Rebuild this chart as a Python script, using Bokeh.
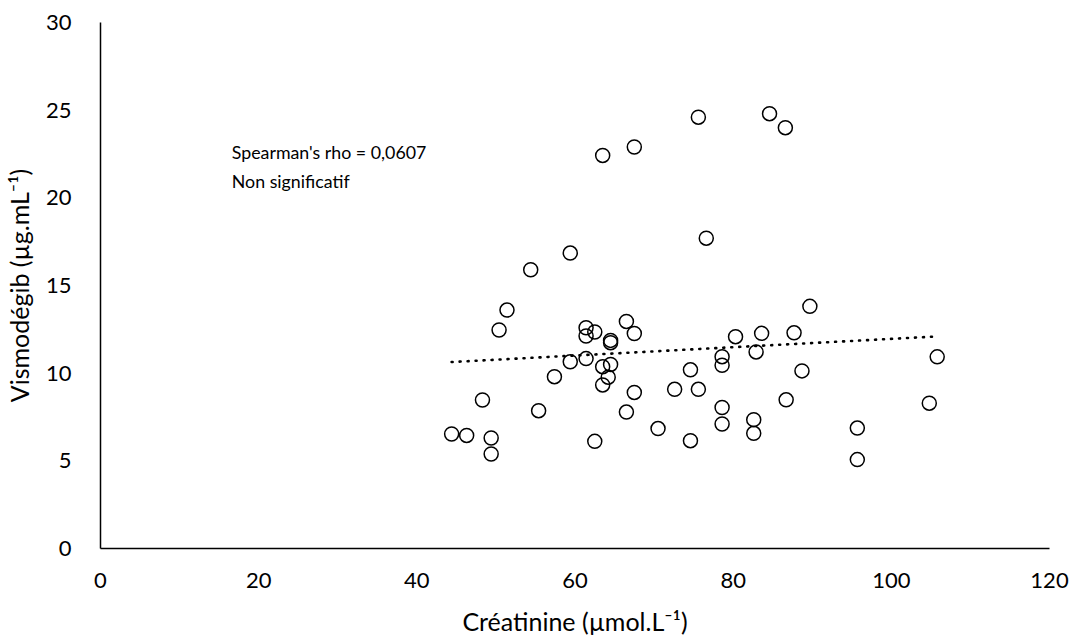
import numpy as np
from bokeh.plotting import figure
from bokeh.models import Range1d, FixedTicker, Label
from bokeh.embed import file_html
from bokeh.resources import INLINE

# Data
creatinine = [44.4, 46.3, 48.3, 49.4, 49.4, 50.4, 51.4, 54.4, 55.4, 57.4,
              59.4, 59.4, 61.4, 61.4, 61.4, 62.5, 62.5, 63.5, 63.5, 63.5,
              64.5, 64.5, 64.5, 64.2, 66.5, 66.5, 67.5, 67.5, 67.5, 70.5,
              72.6, 74.6, 74.6, 75.6, 75.6, 76.6, 78.6, 78.6, 78.6, 78.6,
              80.3, 82.6, 82.6, 82.9, 83.6, 84.6, 86.6, 86.7, 87.7, 88.7,
              89.7, 95.7, 95.7, 104.8, 105.8]
vismodegib = [6.53, 6.45, 8.47, 6.30, 5.39, 12.46, 13.60, 15.90, 7.86, 9.80,
              16.85, 10.65, 12.59, 12.12, 10.83, 12.35, 6.11, 22.42, 10.37, 9.33,
              11.87, 11.74, 10.50, 9.77, 12.95, 7.78, 12.26, 8.90, 22.90, 6.84,
              9.08, 10.19, 6.15, 9.08, 24.60, 17.70, 10.94, 10.45, 8.04, 7.10,
              12.08, 7.35, 6.57, 11.21, 12.27, 24.80, 24.00, 8.48, 12.30, 10.13,
              13.81, 6.87, 5.07, 8.29, 10.93]
x_ticks = [0, 20, 40, 60, 80, 100, 120]
y_ticks = [0, 5, 10, 15, 20, 25, 30]
annotation_lines = ["Spearman's rho = 0,0607", "Non significatif"]

FONT = "Lato"
TICK_FS = "22px"
TITLE_FS = "25px"
NOTE_FS = "17.8px"

p = figure(width=1085, height=641, output_backend="svg", toolbar_location=None,
           x_range=Range1d(0, 120), y_range=Range1d(0, 30),
           min_border_left=98, min_border_right=36, min_border_top=22,
           min_border_bottom=93)
p.outline_line_color = None
p.grid.grid_line_color = None
p.background_fill_color = "white"
p.border_fill_color = "white"

for ax in (p.xaxis, p.yaxis):
    ax.major_tick_line_color = None
    ax.minor_tick_line_color = None
    ax.axis_line_color = "black"
    ax.axis_line_width = 1.5
    ax.major_label_text_font = FONT
    ax.major_label_text_font_size = TICK_FS
    ax.major_label_text_color = "black"
    ax.axis_label_text_font = FONT
    ax.axis_label_text_font_size = TITLE_FS
    ax.axis_label_text_font_style = "normal"
    ax.axis_label_text_color = "black"

p.xaxis.ticker = FixedTicker(ticks=x_ticks)
p.yaxis.ticker = FixedTicker(ticks=y_ticks)
p.xaxis.major_label_standoff = 18
p.yaxis.major_label_standoff = 23
p.xaxis.axis_label = "Créatinine (µmol.L⁻¹)"
p.yaxis.axis_label = "Vismodégib (µg.mL⁻¹)"
p.xaxis.axis_label_standoff = 15
p.yaxis.axis_label_standoff = 9

# Linear trend line from the data
xs = np.array(creatinine)
ys = np.array(vismodegib)
slope, intercept = np.polyfit(xs, ys, 1)
tx = np.array([xs.min(), xs.max()])
p.line(tx, slope * tx + intercept, line_color="black", line_width=2.6,
       line_dash="1 7", line_cap="round")

p.scatter(creatinine, vismodegib, marker="circle", size=14,
          fill_color=None, line_color="black", line_width=1.5)

p.add_layout(Label(x=16.6, y=22.6, text=annotation_lines[0], text_font=FONT,
                   text_font_size=NOTE_FS, text_baseline="middle", text_color="black"))
p.add_layout(Label(x=16.6, y=20.95, text=annotation_lines[1], text_font=FONT,
                   text_font_size=NOTE_FS, text_baseline="middle", text_color="black"))

open("out.html", "w").write(file_html(p, INLINE))
